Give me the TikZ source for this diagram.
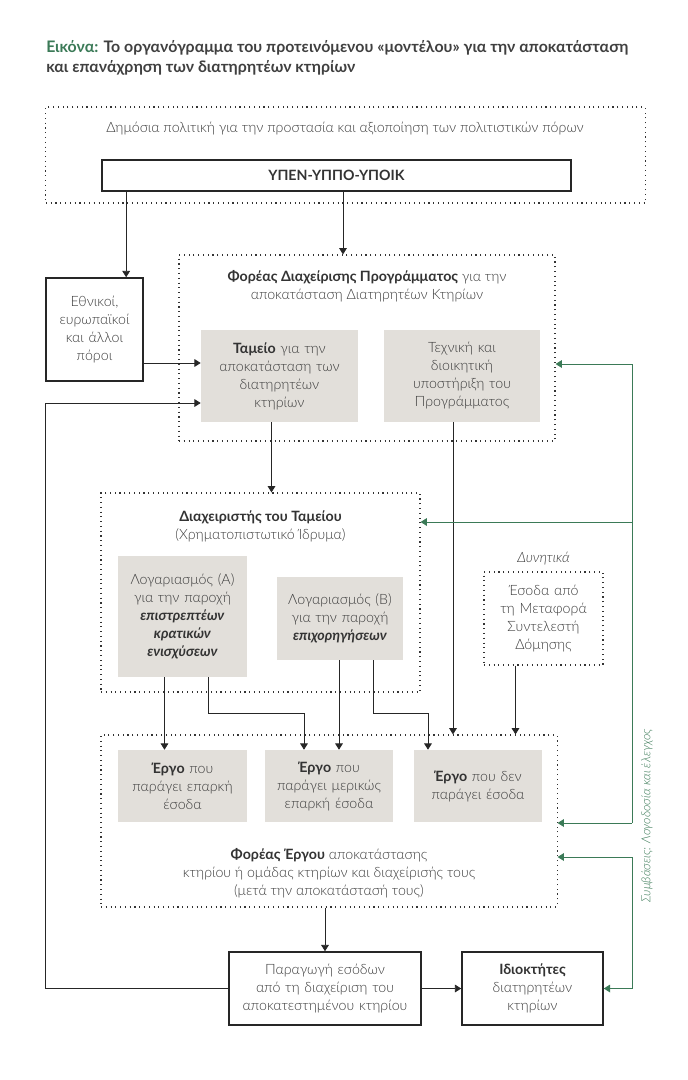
\documentclass[tikz,border=0pt]{standalone}
\usepackage{fontspec}
\IfFontExistsTF{Lato Light}{%
  \IfFontExistsTF{Lato Light Italic}{%
    \setmainfont{Lato Light}[BoldFont={Lato Bold}, ItalicFont={Lato Light Italic}, BoldItalicFont={Lato Bold Italic}]%
  }{\setmainfont{Lato}}%
}{\setmainfont{Lato}}
\usetikzlibrary{arrows.meta, calc}

\definecolor{figgreen}{HTML}{3B7A57}
\definecolor{boxgrey}{HTML}{E2DFDA}
\definecolor{txtgrey}{HTML}{3C3C3C}
\newcommand{\keyw}[1]{\textcolor{black!80}{\textbf{#1}}}

\tikzset{
  txt/.style={font=\fontsize{10.1}{12.8}\selectfont, text=txtgrey, align=center, inner sep=0pt},
  greybox/.style={txt, fill=boxgrey},
  solidbox/.style={txt, draw=black!85, line width=1.1pt},
  dotbox/.style={draw=black!80, line width=0.8pt, dash pattern=on 0.8pt off 2.6pt},
  arr/.style={-{Triangle[width=5.5pt,length=4.5pt]}, line width=0.6pt, draw=black!85},
  garr/.style={-{Triangle[width=5.5pt,length=4.5pt]}, line width=0.7pt, draw=figgreen},
}

\begin{document}
\begin{tikzpicture}[x=0.025cm, y=-0.025cm]
	\useasboundingbox (0,0) rectangle (687,1080);

	\node[anchor=north west, align=left, inner sep=0pt, text=black!75,
		font=\fontsize{11.3}{14.4}\selectfont\bfseries] (title) at (46,40)
		{\textcolor{figgreen}{Εικόνα:} Το οργανόγραμμα του προτεινόμενου «μοντέλου» για την αποκατάσταση\\
		και επανάχρηση των διατηρητέων κτηρίων};

	% public policy
	\node[dotbox, minimum width=14.975cm, minimum height=2.4cm] (policy) at (345.5,155) {};
	\node[txt] (policytxt) at (345,129) {Δημόσια πολιτική για την προστασία και αξιοποίηση των πολιτιστικών πόρων};
	\node[solidbox, minimum width=11.725cm, minimum height=0.775cm] (upen) at (336.5,175.5) {\keyw{ΥΠΕΝ-ΥΠΠΟ-ΥΠΟΙΚ}};

	% programme body
	\node[dotbox, minimum width=9.4cm, minimum height=4.65cm] (foreas) at (367,348) {};
	\node[txt] (foreastxt) at (367,286) {\keyw{Φορέας Διαχείρισης Προγράμματος} για την\\αποκατάσταση Διατηρητέων Κτηρίων};
	\node[solidbox, minimum width=2.425cm, minimum height=2.575cm, text width=2.3cm] (ethnikoi) at (94.5,329.5) {Εθνικοί,\\ευρωπαϊκοί\\και άλλοι\\πόροι};
	\node[greybox, minimum width=3.925cm, minimum height=2.3cm, text width=3.8cm] (tameio) at (279.5,376) {\keyw{Ταμείο} για την\\αποκατάσταση των\\διατηρητέων\\κτηρίων};
	\node[greybox, minimum width=3.9cm, minimum height=2.3cm, text width=3.8cm] (texniki) at (462,376) {Τεχνική και\\διοικητική\\υποστήριξη του\\Προγράμματος};

	% fund manager
	\node[dotbox, minimum width=7.975cm, minimum height=4.975cm] (diax) at (260.5,592.5) {};
	\node[txt] (diaxtxt) at (260.5,526) {\keyw{Διαχειριστής του Ταμείου}\\(Χρηματοπιστωτικό Ίδρυμα)};
	\node[greybox, minimum width=3.225cm, minimum height=3.025cm, text width=3.1cm] (logA) at (182.5,616.5) {Λογαριασμός (Α)\\για την παροχή\\\keyw{\textit{επιστρεπτέων}}\\\keyw{\textit{κρατικών}}\\\keyw{\textit{ενισχύσεων}}};
	\node[greybox, minimum width=3.15cm, minimum height=2.075cm, text width=3.05cm] (logB) at (340,618.5) {Λογαριασμός (Β)\\για την παροχή\\\keyw{\textit{επιχορηγήσεων}}};

	\node[txt] (dynitika) at (543.5,559) {\textit{Δυνητικά}};
	\node[txt, dotbox, text=txtgrey, minimum width=2.975cm, minimum height=2.325cm, text width=2.85cm] (esoda) at (543.5,618.5) {Έσοδα από\\τη Μεταφορά\\Συντελεστή\\Δόμησης};

	% project body
	\node[dotbox, minimum width=11.4cm, minimum height=4.3cm] (ergobody) at (329,821) {};
	\node[greybox, minimum width=3.225cm, minimum height=1.8cm, text width=3.1cm] (ergo1) at (182.5,786) {\keyw{Έργο} που\\παράγει επαρκή\\έσοδα};
	\node[greybox, minimum width=3.2cm, minimum height=1.8cm, text width=3.1cm] (ergo2) at (329,786) {\keyw{Έργο} που\\παράγει μερικώς\\επαρκή έσοδα};
	\node[greybox, minimum width=3.2cm, minimum height=1.8cm, text width=3.1cm] (ergo3) at (478,786) {\keyw{Έργο} που δεν\\παράγει έσοδα};
	\node[txt] (ergobodytxt) at (329,873) {\keyw{Φορέας Έργου} αποκατάστασης\\κτηρίου ή ομάδας κτηρίων και διαχείρισής τους\\(μετά την αποκατάστασή τους)};

	\node[solidbox, minimum width=4.8cm, minimum height=1.825cm, text width=4.6cm] (paragogi) at (325,988.5) {Παραγωγή εσόδων\\από τη διαχείριση του\\αποκατεστημένου κτηρίου};
	\node[solidbox, minimum width=3.525cm, minimum height=1.825cm, text width=3.3cm] (idioktites) at (532.5,988.5) {\keyw{Ιδιοκτήτες}\\διατηρητέων\\κτηρίων};

	\node[txt, rotate=90, text=figgreen, font=\fontsize{8.8}{10}\selectfont] (contracts) at (647,816) {\textit{Συμβάσεις: Λογοδοσία και έλεγχος}};

	% black connectors
	\coordinate (tin) at ([yshift=0.325cm]tameio.west);
	\coordinate (tback) at ([yshift=-0.675cm]tameio.west);
	\draw[arr] ([xshift=0.625cm]upen.south west) -- ([xshift=0.625cm]upen.south west |- ethnikoi.north);
	\draw[arr] ([xshift=-0.6cm]foreas.north |- upen.south) -- ([xshift=-0.6cm]foreas.north);
	\draw[arr] (ethnikoi.east |- tin) -- (tin);
	\draw[arr] (paragogi.west) -| (ethnikoi.west |- tback) -- (tback);
	\draw[arr] ([xshift=-0.2cm]tameio.south) -- ([xshift=-0.2cm]tameio.south |- diax.north);
	\draw[arr] ([xshift=-0.225cm]texniki.south) -- ([xshift=-0.225cm]texniki.south |- ergobody.north);
	\draw[arr] ([xshift=-0.45cm]logA.south) -- ([xshift=-0.45cm]ergo1.north);
	\draw[arr] ([xshift=0.65cm]logA.south) -- ++(0,-0.9cm) -| ([xshift=-0.625cm]ergo2.north);
	\draw[arr] ([xshift=0.25cm]ergo2.north |- logB.south) -- ([xshift=0.25cm]ergo2.north);
	\draw[arr] ([xshift=0.825cm]logB.south) -- ++(0,-1.325cm) -| ([xshift=-1.25cm]ergo3.north);
	\draw[arr] ([xshift=-0.7cm]esoda.south) -- ([xshift=-0.7cm]esoda.south |- ergobody.north);
	\draw[arr] (paragogi.north |- ergobody.south) -- (paragogi.north);
	\draw[arr] (paragogi.east) -- (idioktites.west);

	% green connectors
	\coordinate (gtop) at (632,364);
	\coordinate (gmid) at (632,522);
	\coordinate (gbot) at (632,823);
	\coordinate (g2top) at (632,857);
	\coordinate (g2bot) at (632,988.5);
	\draw[figgreen, line width=0.7pt] (gtop) -- (gbot);
	\draw[garr] (gtop) -- (gtop -| foreas.east);
	\draw[garr] (gmid) -- (gmid -| diax.east);
	\draw[garr] (gbot) -- (gbot -| ergobody.east);
	\draw[garr, {Triangle[width=5.5pt,length=4.5pt]}-{Triangle[width=5.5pt,length=4.5pt]}] (g2top -| ergobody.east) -- (g2top) -- (g2bot) -- (idioktites.east);
\end{tikzpicture}
\end{document}
